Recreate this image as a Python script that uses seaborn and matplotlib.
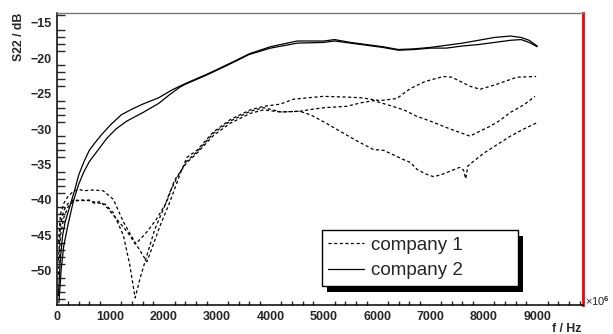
import numpy as np
import pandas as pd
import matplotlib
matplotlib.use("Agg")
import matplotlib.pyplot as plt
from matplotlib.ticker import MultipleLocator
from matplotlib.patches import Rectangle
from matplotlib.transforms import IdentityTransform
import seaborn as sns

# company 1 (dashed), three measurements
c1a_f = [20, 60, 120, 200, 300, 450, 600, 750, 900, 1050, 1240, 1360, 1460, 1550, 1680,
         1830, 1990, 2110, 2250, 2420, 2620, 2930, 3240, 3620, 3870, 4200, 4550, 4750,
         5000, 5300, 5600, 5930, 6120, 6490, 6620, 6750, 6900, 7050, 7180, 7350, 7550,
         7620, 7660, 7700, 8000, 8250, 8500, 8750, 9000]
c1a_db = [-50.5, -45, -42.5, -41, -40.2, -40, -40.1, -40.4, -40.6, -41.8, -45.0, -49.2,
          -53.8, -51.1, -47.8, -44.1, -41.3, -38.9, -36.8, -34.6, -33.2, -30.6, -28.9,
          -27.5, -27.0, -27.6, -27.5, -28.0, -29.0, -30.3, -31.6, -32.9, -33.0, -34.3,
          -34.7, -35.7, -36.3, -36.7, -36.5, -36.0, -35.4, -35.8, -37.0, -35.2, -33.4,
          -32.2, -31.0, -30.0, -29.1]

c1b_f = [20, 60, 120, 200, 300, 450, 600, 700, 800, 950, 1110, 1260, 1360, 1460, 1560,
         1680, 1860, 2050, 2200, 2420, 2620, 2930, 3240, 3620, 3870, 4180, 4550, 4800,
         5000, 5430, 5700, 5930, 6200, 6500, 6740, 7000, 7370, 7740, 7900, 8120, 8300,
         8490, 8750, 8960]
c1b_db = [-48.5, -43.5, -41.5, -40.5, -40.0, -40.1, -40.0, -40.5, -40.2, -41.2, -42.7,
          -44.0, -45.0, -46.2, -45.5, -44.5, -42.7, -40.3, -37.2, -34.8, -33.4, -30.9,
          -29.2, -27.8, -27.3, -27.6, -27.5, -27.2, -27.0, -26.8, -26.3, -26.0, -26.6,
          -27.3, -28.2, -28.9, -30.0, -31.0, -30.4, -29.6, -28.8, -27.7, -26.6, -25.4]

c1c_f = [20, 60, 120, 200, 300, 400, 500, 650, 860, 1050, 1240, 1490, 1680, 1770, 1930,
         2110, 2300, 2430, 2620, 2930, 3240, 3370, 3620, 3870, 4180, 4430, 4700, 4990,
         5430, 5700, 6050, 6370, 6620, 6900, 7240, 7400, 7560, 7750, 7930, 8240, 8620, 8980]
c1c_db = [-46, -42, -40.5, -39.5, -38.8, -38.5, -38.7, -38.6, -38.7, -39.9, -43.1, -46.4,
          -48.7, -46.9, -43.6, -40.3, -36.4, -34.0, -33.0, -30.4, -28.7, -28.2, -27.3,
          -26.8, -26.5, -25.8, -25.6, -25.4, -25.5, -25.6, -26.0, -25.7, -24.3, -23.3,
          -22.6, -22.7, -23.3, -24.0, -24.4, -23.7, -22.7, -22.6]

# company 2 (solid), two measurements
c2a_f = [20, 60, 100, 150, 250, 330, 400, 500, 600, 700, 830, 1000, 1200, 1400, 1600,
         1900, 2150, 2400, 2800, 3000, 3360, 3600, 4000, 4500, 5000, 5200, 5500, 5800,
         6100, 6400, 6700, 7000, 7300, 7600, 7900, 8200, 8500, 8700, 8850, 9000]
c2a_db = [-53.5, -48, -45, -43, -40.5, -38.5, -36.5, -34.6, -33.0, -32.0, -30.8, -29.4,
          -28.0, -27.2, -26.5, -25.6, -24.5, -23.6, -22.3, -21.6, -20.3, -19.4, -18.4,
          -17.6, -17.6, -17.4, -17.8, -18.1, -18.4, -18.8, -18.7, -18.5, -18.2, -17.9,
          -17.5, -17.1, -16.9, -17.1, -17.5, -18.3]

c2b_f = [30, 70, 120, 200, 300, 400, 500, 600, 700, 930, 1100, 1300, 1600, 1900, 2100,
         2300, 2400, 2800, 3000, 3360, 3600, 4000, 4500, 5000, 5200, 5500, 5800, 6100,
         6400, 6700, 7000, 7300, 7600, 7900, 8200, 8500, 8700, 8850, 9000]
c2b_db = [-54.5, -50, -46.5, -43.5, -40.2, -37.8, -36.0, -34.6, -33.6, -31.3, -30.0, -28.9,
          -27.7, -26.4, -25.2, -24.1, -23.7, -22.4, -21.7, -20.4, -19.5, -18.6, -17.9,
          -17.8, -17.6, -17.9, -18.2, -18.5, -18.9, -18.8, -18.6, -18.6, -18.3, -18.1,
          -17.8, -17.5, -17.4, -17.8, -18.4]

curves = [("1a", "company 1", c1a_f, c1a_db), ("1b", "company 1", c1b_f, c1b_db),
          ("1c", "company 1", c1c_f, c1c_db), ("2a", "company 2", c2a_f, c2a_db),
          ("2b", "company 2", c2b_f, c2b_db)]
df = pd.concat([pd.DataFrame({"f": f, "s22": db, "curve": cid, "company": comp})
                for cid, comp, f, db in curves], ignore_index=True)

sns.set_style("white")
plt.rcParams["font.family"] = ["Liberation Sans", "DejaVu Sans"]
plt.rcParams["font.weight"] = "bold"
plt.rcParams["mathtext.fontset"] = "custom"
plt.rcParams["mathtext.rm"] = "Liberation Sans"

fig = plt.figure(figsize=(6.13, 3.34), dpi=100)
ax = fig.add_axes([0.0935, 0.0868, 0.8571, 0.8733])

sns.lineplot(data=df, x="f", y="s22", units="curve", style="company", estimator=None,
             color="black", linewidth=0.9, sort=True,
             dashes={"company 1": (2.5, 2), "company 2": ""}, ax=ax)

ax.set_xlim(0, 9855)
ax.set_ylim(-54.8, -13.7)
ax.xaxis.set_major_locator(MultipleLocator(1000))
ax.xaxis.set_minor_locator(MultipleLocator(200))
ax.yaxis.set_major_locator(MultipleLocator(5))
ax.yaxis.set_minor_locator(MultipleLocator(1))
ax.tick_params(axis="y", which="major", direction="in", length=11.5, width=1, labelsize=9, pad=4)
ax.tick_params(axis="y", which="minor", direction="in", length=5.8, width=1, left=True)
ax.tick_params(axis="x", which="major", direction="in", length=6, width=1, labelsize=9, pad=4)
ax.tick_params(axis="x", which="minor", direction="in", length=3, width=1, bottom=True)
ax.set_xlabel("")
ax.set_ylabel("")

for side in ["left", "bottom"]:
    ax.spines[side].set_color("black")
    ax.spines[side].set_linewidth(1.1)
ax.spines["top"].set_color("#777777")
ax.spines["top"].set_linewidth(1)
ax.spines["right"].set_color("red")
ax.spines["right"].set_linewidth(2)

leg = ax.legend(loc="lower left", bbox_to_anchor=(0.503, 0.065, 0.374, 0.2), mode="expand",
                borderaxespad=0, frameon=True, fancybox=False, framealpha=1,
                edgecolor="black", handlelength=1.9, handletextpad=0.4,
                borderpad=0.35, labelspacing=0.45,
                prop={"family": "Liberation Sans", "weight": "normal", "size": 13.5})
leg.get_frame().set_linewidth(1)
for h in leg.get_lines():
    h.set_linewidth(0.9)

fig.canvas.draw()
bb = leg.get_window_extent()
ax.add_patch(Rectangle((bb.x0 + 5, bb.y0 - 6), bb.width, bb.height, transform=IdentityTransform(),
                       facecolor="black", edgecolor="none", zorder=4.5, clip_on=False))

fig.text(0.031, 0.961, "S22 / dB", rotation=90, ha="center", va="top", fontsize=8.8, fontweight="bold")
fig.text(0.949, 0.015, "f / Hz", ha="right", va="center", fontsize=8.8, fontweight="bold")
fig.text(0.955, 0.099, r"×10$^{6}$", ha="left", va="center", fontsize=8, fontweight="normal")

fig.savefig("out.png", dpi=100)
